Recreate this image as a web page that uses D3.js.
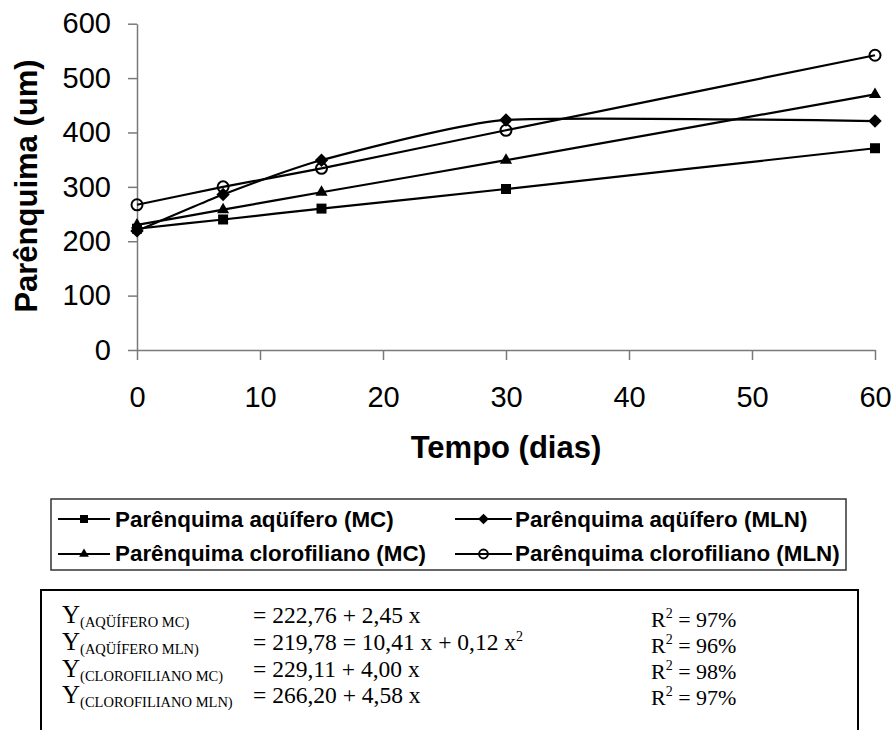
<!DOCTYPE html>
<html lang="pt">
<head>
<meta charset="UTF-8">
<title>Parênquima</title>
<script src="https://d3js.org/d3.v7.min.js"></script>
<style>
  body { margin: 0; background: #fff; }
  svg { display: block; }
</style>
</head>
<body>
<div id="chart"></div>
<script>
// data
var dias = [0, 7, 15, 30, 60];
var aquiferoMC = [223, 240, 260, 296, 371];
var aquiferoMLN = [219, 286, 349, 423, 421];
var clorofilianoMC = [230, 258, 290, 349, 470];
var clorofilianoMLN = [267, 300, 334, 404, 542];

var seriesNames = [
  "Parênquima aqüífero (MC)",
  "Parênquima aqüífero (MLN)",
  "Parênquima clorofiliano (MC)",
  "Parênquima clorofiliano (MLN)"
];
var seriesMarkers = ["square", "diamond", "triangle", "circle"];

var yTicks = [0, 100, 200, 300, 400, 500, 600];
var xTicks = [0, 10, 20, 30, 40, 50, 60];

var eqSubs = ["(AQÜÍFERO MC)", "(AQÜÍFERO MLN)", "(CLOROFILIANO MC)", "(CLOROFILIANO MLN)"];
var eqTexts = ["= 222,76 + 2,45 x", "= 219,78 = 10,41 x + 0,12 x", "= 229,11 + 4,00 x", "= 266,20 + 4,58 x"];
var eqSquared = [false, true, false, false];
var r2Values = ["97%", "96%", "98%", "97%"];

var series = [aquiferoMC, aquiferoMLN, clorofilianoMC, clorofilianoMLN];

var W = 896, H = 730;
var svg = d3.select("#chart").append("svg")
  .attr("width", W).attr("height", H);

svg.append("rect").attr("width", W).attr("height", H).attr("fill", "#fff");

// scales
var x = d3.scaleLinear().domain([0, 60]).range([137, 875]);
var y = d3.scaleLinear().domain([0, 600]).range([350, 23.7]);

// axes
var axisColor = "#7a7a7a";
var gy = svg.append("g")
  .attr("transform", "translate(" + x(0) + ",0)")
  .call(d3.axisLeft(y).tickValues(yTicks).tickSize(9).tickSizeOuter(0).tickPadding(17));
var gx = svg.append("g")
  .attr("transform", "translate(0," + y(0) + ")")
  .call(d3.axisBottom(x).tickValues(xTicks).tickSize(10).tickSizeOuter(0).tickPadding(26));

[gx, gy].forEach(function(g) {
  g.select(".domain").attr("stroke", axisColor).attr("stroke-width", 1.5);
  g.selectAll(".tick line").attr("stroke", axisColor).attr("stroke-width", 1.5);
  g.selectAll(".tick text")
    .attr("fill", "#000")
    .style("font-family", "'Liberation Sans', Arial, sans-serif")
    .style("font-size", "29px");
});

// axis titles
svg.append("text")
  .attr("transform", "translate(37,186) rotate(-90)")
  .attr("text-anchor", "middle")
  .style("font-family", "'Liberation Sans', Arial, sans-serif")
  .style("font-weight", "bold")
  .style("font-size", "31px")
  .text("Parênquima (um)");

svg.append("text")
  .attr("x", 506).attr("y", 458)
  .attr("text-anchor", "middle")
  .style("font-family", "'Liberation Sans', Arial, sans-serif")
  .style("font-weight", "bold")
  .style("font-size", "31px")
  .text("Tempo (dias)");

// marker helper
function drawMarker(g, type, cx, cy, scale) {
  scale = scale || 1;
  if (type === "circle") {
    g.append("circle").attr("cx", cx).attr("cy", cy).attr("r", 5.5 * scale)
      .attr("fill", "none").attr("stroke", "#000").attr("stroke-width", 2);
    return;
  }
  var sym, rot = 0;
  if (type === "square") sym = d3.symbol().type(d3.symbolSquare).size(100 * scale * scale);
  if (type === "diamond") { sym = d3.symbol().type(d3.symbolSquare).size(90 * scale * scale); rot = 45; }
  if (type === "triangle") sym = d3.symbol().type(d3.symbolTriangle).size(64 * scale * scale);
  g.append("path").attr("d", sym())
    .attr("transform", "translate(" + cx + "," + cy + ") rotate(" + rot + ")")
    .attr("fill", "#000");
}

// lines (smoothed like the original)
var line = d3.line()
  .x(function(d, i) { return x(dias[i]); })
  .y(function(d) { return y(d); })
  .curve(d3.curveCardinal.tension(0.5));

series.forEach(function(vals, si) {
  svg.append("path")
    .datum(vals)
    .attr("fill", "none")
    .attr("stroke", "#000")
    .attr("stroke-width", 2.2)
    .attr("d", line);
  var g = svg.append("g");
  vals.forEach(function(v, i) {
    drawMarker(g, seriesMarkers[si], x(dias[i]), y(v));
  });
});

// legend
var legend = svg.append("g");
legend.append("rect")
  .attr("x", 51).attr("y", 499).attr("width", 795).attr("height", 71)
  .attr("fill", "none").attr("stroke", "#333").attr("stroke-width", 1.5);

var legCols = [{x1: 58, x2: 110, tx: 115}, {x1: 455, x2: 512, tx: 515}];
var legRows = [{ly: 519, ty: 527}, {ly: 554, ty: 561}];
seriesNames.forEach(function(name, i) {
  var c = legCols[i % 2], r = legRows[Math.floor(i / 2)];
  legend.append("line")
    .attr("x1", c.x1).attr("x2", c.x2).attr("y1", r.ly).attr("y2", r.ly)
    .attr("stroke", "#000").attr("stroke-width", 2);
  drawMarker(legend, seriesMarkers[i], (c.x1 + c.x2) / 2, r.ly, 0.8);
  legend.append("text")
    .attr("x", c.tx).attr("y", r.ty)
    .style("font-family", "'Liberation Sans', Arial, sans-serif")
    .style("font-weight", "bold")
    .style("font-size", "22.4px")
    .text(name);
});

// equations box
var eq = svg.append("g");
eq.append("rect")
  .attr("x", 41).attr("y", 590).attr("width", 817).attr("height", 200)
  .attr("fill", "none").attr("stroke", "#000").attr("stroke-width", 2);

var eqBase = [623, 650, 677, 703];
var r2Base = [627, 653, 679, 705];
var serif = "'Liberation Serif', 'Times New Roman', serif";

eqSubs.forEach(function(sub, i) {
  var t = eq.append("text")
    .attr("x", 62).attr("y", eqBase[i])
    .style("font-family", serif)
    .style("font-size", "25px");
  t.append("tspan").text("Y");
  t.append("tspan").attr("dy", 4).style("font-size", "14.5px").text(sub);

  var e = eq.append("text")
    .attr("x", 253).attr("y", eqBase[i])
    .style("font-family", serif)
    .style("font-size", "23.5px");
  e.append("tspan").text(eqTexts[i]);
  if (eqSquared[i]) e.append("tspan").attr("dy", -9).style("font-size", "14px").text("2");

  var r = eq.append("text")
    .attr("x", 651).attr("y", r2Base[i])
    .style("font-family", serif)
    .style("font-size", "22px");
  r.append("tspan").text("R");
  r.append("tspan").attr("dy", -9).style("font-size", "14px").text("2");
  r.append("tspan").attr("dy", 9).text(" = " + r2Values[i]);
});
</script>
</body>
</html>
